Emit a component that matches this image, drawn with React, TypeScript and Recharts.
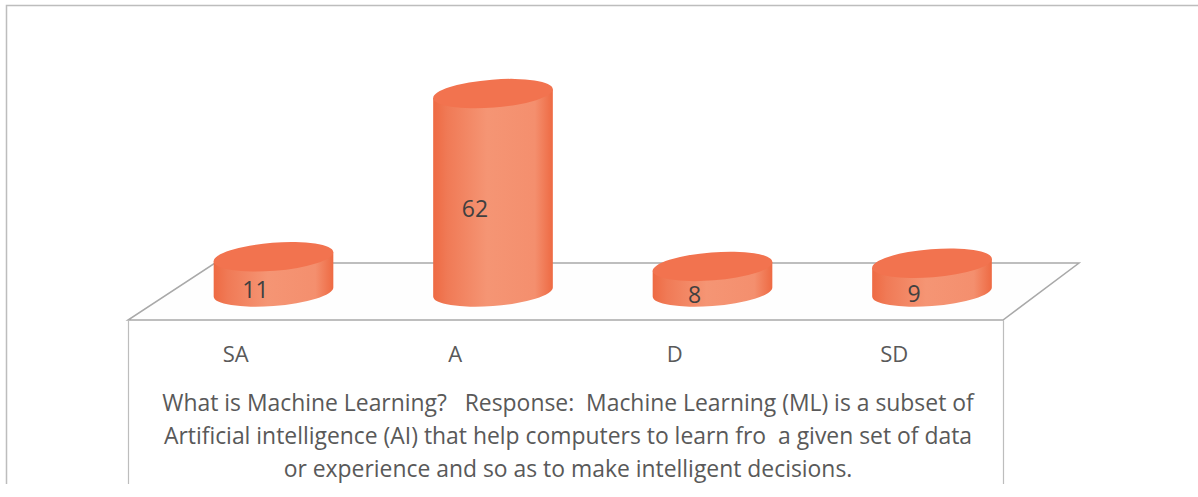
import { BarChart, Bar, XAxis, YAxis, LabelList } from "recharts";

const categories = ["SA", "A", "D", "SD"];
const responses = [11, 62, 8, 9];
const captionLines = [
  "What is Machine Learning?   Response:  Machine Learning (ML) is a subset of",
  "Artificial intelligence (AI) that help computers to learn fro  a given set of data",
  "or experience and so as to make intelligent decisions.",
];

const chartData = categories.map((name, i) => ({ name, value: responses[i] }));

const FONT = "'Open Sans', sans-serif";

// tilted ellipse used for the cylinder caps
const RX = 60;
const RY = 14;
const TILT = -4.5;

function Cylinder(props: any) {
  const { x, y, width, height } = props;
  const cx = x + width / 2;
  const bottom = y + height;
  const t = (TILT * Math.PI) / 180;
  const halfW = Math.sqrt(RX * RX * Math.cos(t) ** 2 + RY * RY * Math.sin(t) ** 2);
  const lift = ((RX * RX - RY * RY) * Math.sin(-t) * Math.cos(t)) / halfW;
  const body = `M${cx - halfW},${y + lift} L${cx - halfW},${bottom + lift} A${RX},${RY} ${TILT} 0 0 ${cx + halfW},${bottom - lift} L${cx + halfW},${y - lift} Z`;
  return (
    <g>
      <path d={body} fill="url(#cylinderBody)" />
      <ellipse
        cx={cx}
        cy={y}
        rx={RX}
        ry={RY}
        fill="#f2734f"
        transform={`rotate(${TILT} ${cx} ${y})`}
      />
    </g>
  );
}

function CategoryTick(props: any) {
  const { x, y, payload } = props;
  return (
    <text x={x - 38} y={y + 62} textAnchor="middle" fontFamily={FONT} fontSize={22} fill="#595959">
      {payload.value}
    </text>
  );
}

function ValueLabel(props: any) {
  const { x, y, width, height, value } = props;
  return (
    <text
      x={x + width / 2 - 18}
      y={y + height / 2 + 24}
      textAnchor="middle"
      fontFamily={FONT}
      fontSize={23}
      fill="#404040"
    >
      {value}
    </text>
  );
}

export default function App() {
  return (
    <div style={{ position: "absolute", left: 0, top: 0, width: 1198, height: 497, background: "#fff" }}>
      {/* frame, floor and caption sit behind the chart */}
      <svg width={1198} height={497} style={{ position: "absolute", left: 0, top: 0 }}>
        <path d="M6.5,484 L6.5,5.5 L1198,5.5" fill="none" stroke="#bdbdbd" strokeWidth={1.5} />
        <path d="M215,263 L1079,263 L1003,320 L128,320 Z" fill="#fefefe" stroke="#a9a9a9" strokeWidth={1.5} />
        <path d="M128.5,320 L128.5,484 M1003.5,320 L1003.5,484" fill="none" stroke="#bdbdbd" strokeWidth={1.2} />
        {captionLines.map((line, i) => (
          <text
            key={i}
            x={568}
            y={411 + i * 33}
            textAnchor="middle"
            fontFamily={FONT}
            fontSize={22.9}
            fill="#595959"
            style={{ whiteSpace: "pre" }}
          >
            {line}
          </text>
        ))}
      </svg>
      <div style={{ position: "absolute", left: 0, top: 0 }}>
        <BarChart
          width={1198}
          height={497}
          data={chartData}
          margin={{ top: 68, right: 156, bottom: 105, left: 164 }}
        >
          <defs>
            <linearGradient id="cylinderBody" x1="0" y1="0" x2="1" y2="0">
              <stop offset="0%" stopColor="#ee6a43" />
              <stop offset="12%" stopColor="#f07a56" />
              <stop offset="45%" stopColor="#f59574" />
              <stop offset="85%" stopColor="#f48f6e" />
              <stop offset="100%" stopColor="#ee6a43" />
            </linearGradient>
          </defs>
          <XAxis dataKey="name" height={100} axisLine={false} tickLine={false} tick={<CategoryTick />} interval={0} />
          <YAxis hide domain={[0, 70]} />
          <Bar dataKey="value" barSize={119} shape={<Cylinder />} isAnimationActive={false}>
            <LabelList dataKey="value" content={<ValueLabel />} />
          </Bar>
        </BarChart>
      </div>
    </div>
  );
}
